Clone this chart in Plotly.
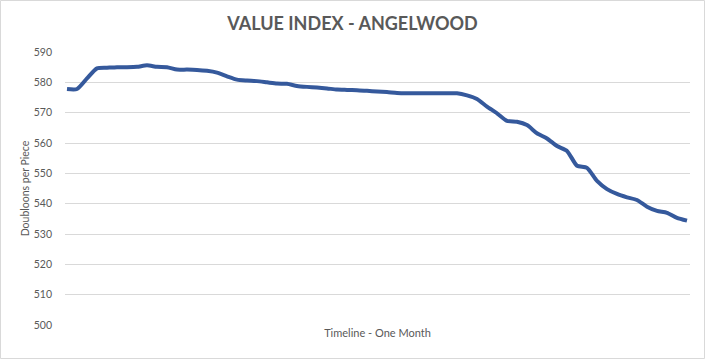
import plotly.graph_objects as go

values = [577.8, 577.8, 581.3, 584.6, 584.8, 585.0, 585.0, 585.1, 585.6, 585.1,
          585.0, 584.2, 584.2, 584.1, 583.8, 583.2, 582.0, 580.9, 580.6, 580.4,
          580.0, 579.6, 579.5, 578.8, 578.5, 578.3, 578.0, 577.6, 577.5, 577.4,
          577.2, 577.0, 576.8, 576.5, 576.4, 576.4, 576.4, 576.4, 576.4, 576.4,
          575.7, 574.5, 572.0, 569.8, 567.3, 567.0, 565.9, 563.2, 561.5, 559.0,
          557.4, 552.5, 551.8, 547.5, 544.8, 543.2, 542.1, 541.2, 539.0, 537.6,
          537.0, 535.3, 534.4]
steps = list(range(len(values)))
y_ticks = [500, 510, 520, 530, 540, 550, 560, 570, 580, 590]

W, H = 705, 359
L, R, T, B = 65, 15, 52, 34
pw, ph = W - L - R, H - T - B

fig = go.Figure()
fig.add_trace(go.Scatter(
    x=steps, y=values, mode="lines",
    line=dict(color="#35599c", width=4, shape="spline", smoothing=0.6),
    hoverinfo="skip", showlegend=False,
))

font_family = "Lato, 'Open Sans', sans-serif"
fig.update_layout(
    width=W, height=H, autosize=False,
    margin=dict(l=L, r=R, t=T, b=B, autoexpand=False),
    paper_bgcolor="white", plot_bgcolor="white",
    title=dict(text="<b>VALUE INDEX - ANGELWOOD</b>", x=0.5, xref="container", xanchor="center",
               y=1 - 24 / H, yref="container", yanchor="middle",
               font=dict(family=font_family, size=18, color="#595959")),
    font=dict(family=font_family, color="#595959", size=11),
    xaxis=dict(range=[-0.2, len(values) - 0.7], showticklabels=False, showgrid=False,
               zeroline=False, showline=False, ticks="",
               title=dict(text="Timeline - One Month", standoff=4,
                          font=dict(size=11, color="#595959"))),
    yaxis=dict(range=[500, 590], tickvals=y_ticks, showgrid=True, gridcolor="#d9d9d9",
               gridwidth=1, zeroline=False, showline=False, ticks="",
               ticklabelstandoff=12,
               tickfont=dict(size=10.5, color="#595959"),
               title=dict(text="Doubloons per Piece", standoff=2,
                          font=dict(size=10.5, color="#595959"))),
    shapes=[dict(type="rect", xref="paper", yref="paper",
                 x0=(0.5 - L) / pw, x1=(W - 0.5 - L) / pw,
                 y0=(H - B - (H - 0.5)) / ph, y1=(H - B - 0.5) / ph,
                 line=dict(color="#d9d9d9", width=1), layer="below")],
)

fig.write_html("out.html", config={"displayModeBar": False},
               post_script="document.body.style.margin='0';document.body.style.overflow='hidden';")
